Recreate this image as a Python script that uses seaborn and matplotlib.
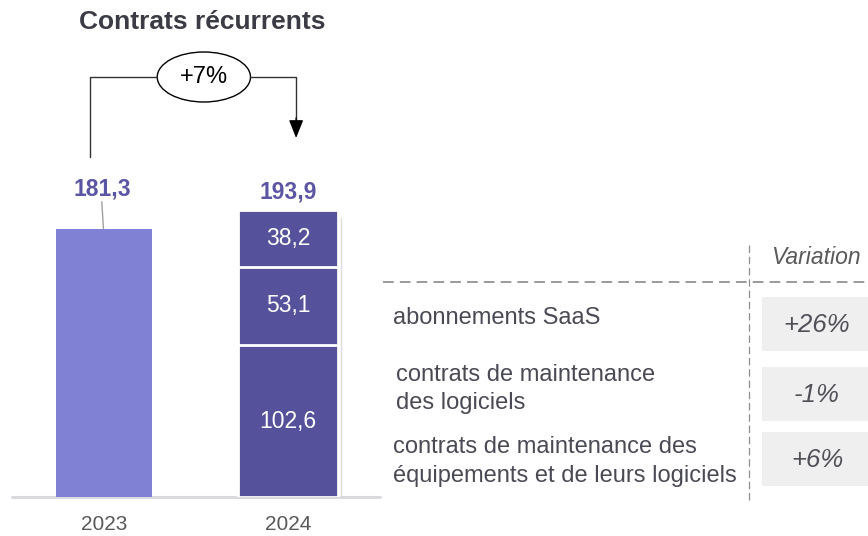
import numpy as np
import pandas as pd
import matplotlib
matplotlib.use("Agg")
import matplotlib.pyplot as plt
from matplotlib.patches import Ellipse, Rectangle
from matplotlib.transforms import Affine2D
from matplotlib.lines import Line2D
import seaborn as sns

# ---- data ----
years = ["2023", "2024"]
total_2023 = 181.3
total_2024 = 193.9
segments_2024 = [102.6, 53.1, 38.2]          # bottom -> top
segment_labels = ["102,6", "53,1", "38,2"]
total_labels = ["181,3", "193,9"]
growth_label = "+7%"
title = "Contrats récurrents"
row_labels = ["abonnements SaaS",
              "contrats de maintenance\ndes logiciels",
              "contrats de maintenance des\néquipements et de leurs logiciels"]
variations = ["+26%", "-1%", "+6%"]
variation_header = "Variation"

# ---- style ----
sns.set_style("white")
plt.rcParams['font.family'] = ['Liberation Sans', 'DejaVu Sans']

W, H = 868, 536
fig = plt.figure(figsize=(W / 100, H / 100), dpi=100)
PX = 1.48                       # pixels per unit
base_px = 497
ax = fig.add_axes([12 / W, (H - base_px) / H, 368 / W, base_px / H])
ymax = base_px / PX
step = 181.5                    # px between bar centres
c0 = 104.5
ax.set_xlim(-(c0 - 12) / step, (380 - c0) / step)

light = "#8080D4"
dark = "#55519B"
lab_col = "#5b56a3"

# 2023 bar
sns.barplot(x=[years[0]], y=[total_2023], order=years, color=light, saturation=1,
            width=0.52, ax=ax, linewidth=0)
# 2024 stacked bar via cumulative overlap
cum = np.cumsum(segments_2024)
for top in cum[::-1]:
    sns.barplot(x=[years[1]], y=[top], order=years, color=dark, saturation=1,
                width=0.54, ax=ax, edgecolor="white", linewidth=2)
ax.set_ylim(0, ymax)
ax.set_xlabel("")
ax.set_ylabel("")
ax.set_yticks([])
sns.despine(ax=ax, left=True, bottom=True)
ax.tick_params(axis="x", length=0, pad=13, labelsize=15, labelcolor="#595959")

# baseline
ax.axhline(0, color="#d9d9de", lw=2.2, clip_on=False, zorder=0)
# thin grey line next to 2024 bar
ax.plot([1.286, 1.286], [0, 188.5], color="#dcdce0", lw=1, zorder=0)

# segment labels
bottoms = np.concatenate([[0], cum[:-1]])
for b, h, lab in zip(bottoms, segments_2024, segment_labels):
    ax.text(1, b + h / 2, lab, ha="center", va="center", color="white", fontsize=16.5)

# totals
ax.text(-0.01, total_2023 + 40 / PX, total_labels[0], ha="center", va="center",
        color=lab_col, fontsize=16.5, fontweight="bold")
ax.plot([-0.012, -0.003], [total_2023 + 27 / PX, total_2023], color="#a0a0a0", lw=1)
ax.text(1.0, total_2024 + 18 / PX, total_labels[1], ha="center", va="center",
        color=lab_col, fontsize=16.5, fontweight="bold")

# bracket with ellipse
y_br = (base_px - 77) / PX
xl = (91 - c0) / step
xr = (294 - c0) / step
ex = (203 - c0) / step
ew = 92 / step
eh = 50 / PX
ax.plot([xl, xl, ex - ew / 2], [(base_px - 157) / PX, y_br, y_br], color="#333333", lw=1, clip_on=False)
ax.plot([ex + ew / 2, xr, xr], [y_br, y_br, (base_px - 125) / PX], color="#333333", lw=1, clip_on=False)
ax.annotate("", xy=(xr, (base_px - 138) / PX), xytext=(xr, (base_px - 118) / PX),
            arrowprops=dict(arrowstyle="-|>,head_length=0.55,head_width=0.22", color="black",
                            lw=1, mutation_scale=20, shrinkA=0, shrinkB=0))
ax.add_patch(Ellipse((ex, y_br), ew, eh, facecolor="white", edgecolor="black", lw=1, clip_on=False))
ax.text(ex, y_br, growth_label, ha="center", va="center", fontsize=17, color="black")

# ---- figure-level (pixel coords from top-left) ----
T = Affine2D().scale(1 / W, -1 / H).translate(0, 1) + fig.transFigure

fig.text(202.5, 22, title, transform=T, ha="center", va="center", fontsize=19,
         fontweight="bold", color="#3b3b45")

# dashed lines
fig.add_artist(Line2D([383, 868], [282, 282], transform=T, color="#7f7f7f", lw=1.1,
                      linestyle=(0, (7, 4))))
fig.add_artist(Line2D([749, 749], [245, 502], transform=T, color="#8f8f8f", lw=0.9,
                      linestyle=(0, (6, 3))))

fig.text(816, 258, variation_header, transform=T, ha="center", va="center",
         fontsize=16.5, style="italic", color="#595959")

row_x = [393, 396, 393]
row_y = [318, 389, 461.5]
box_y = [297, 367, 432]
for lx, ly, by, lab, var in zip(row_x, row_y, box_y, row_labels, variations):
    fig.text(lx, ly, lab, transform=T, ha="left", va="center", fontsize=17,
             color="#4a4a55", linespacing=1.38)
    fig.add_artist(Rectangle((762, by), 110, 54, transform=T, facecolor="#efefef",
                             edgecolor="none"))
    fig.text(817, by + 28, var, transform=T, ha="center", va="center", fontsize=18.5,
             style="italic", color="#505058")

fig.savefig("out.png", dpi=100)
